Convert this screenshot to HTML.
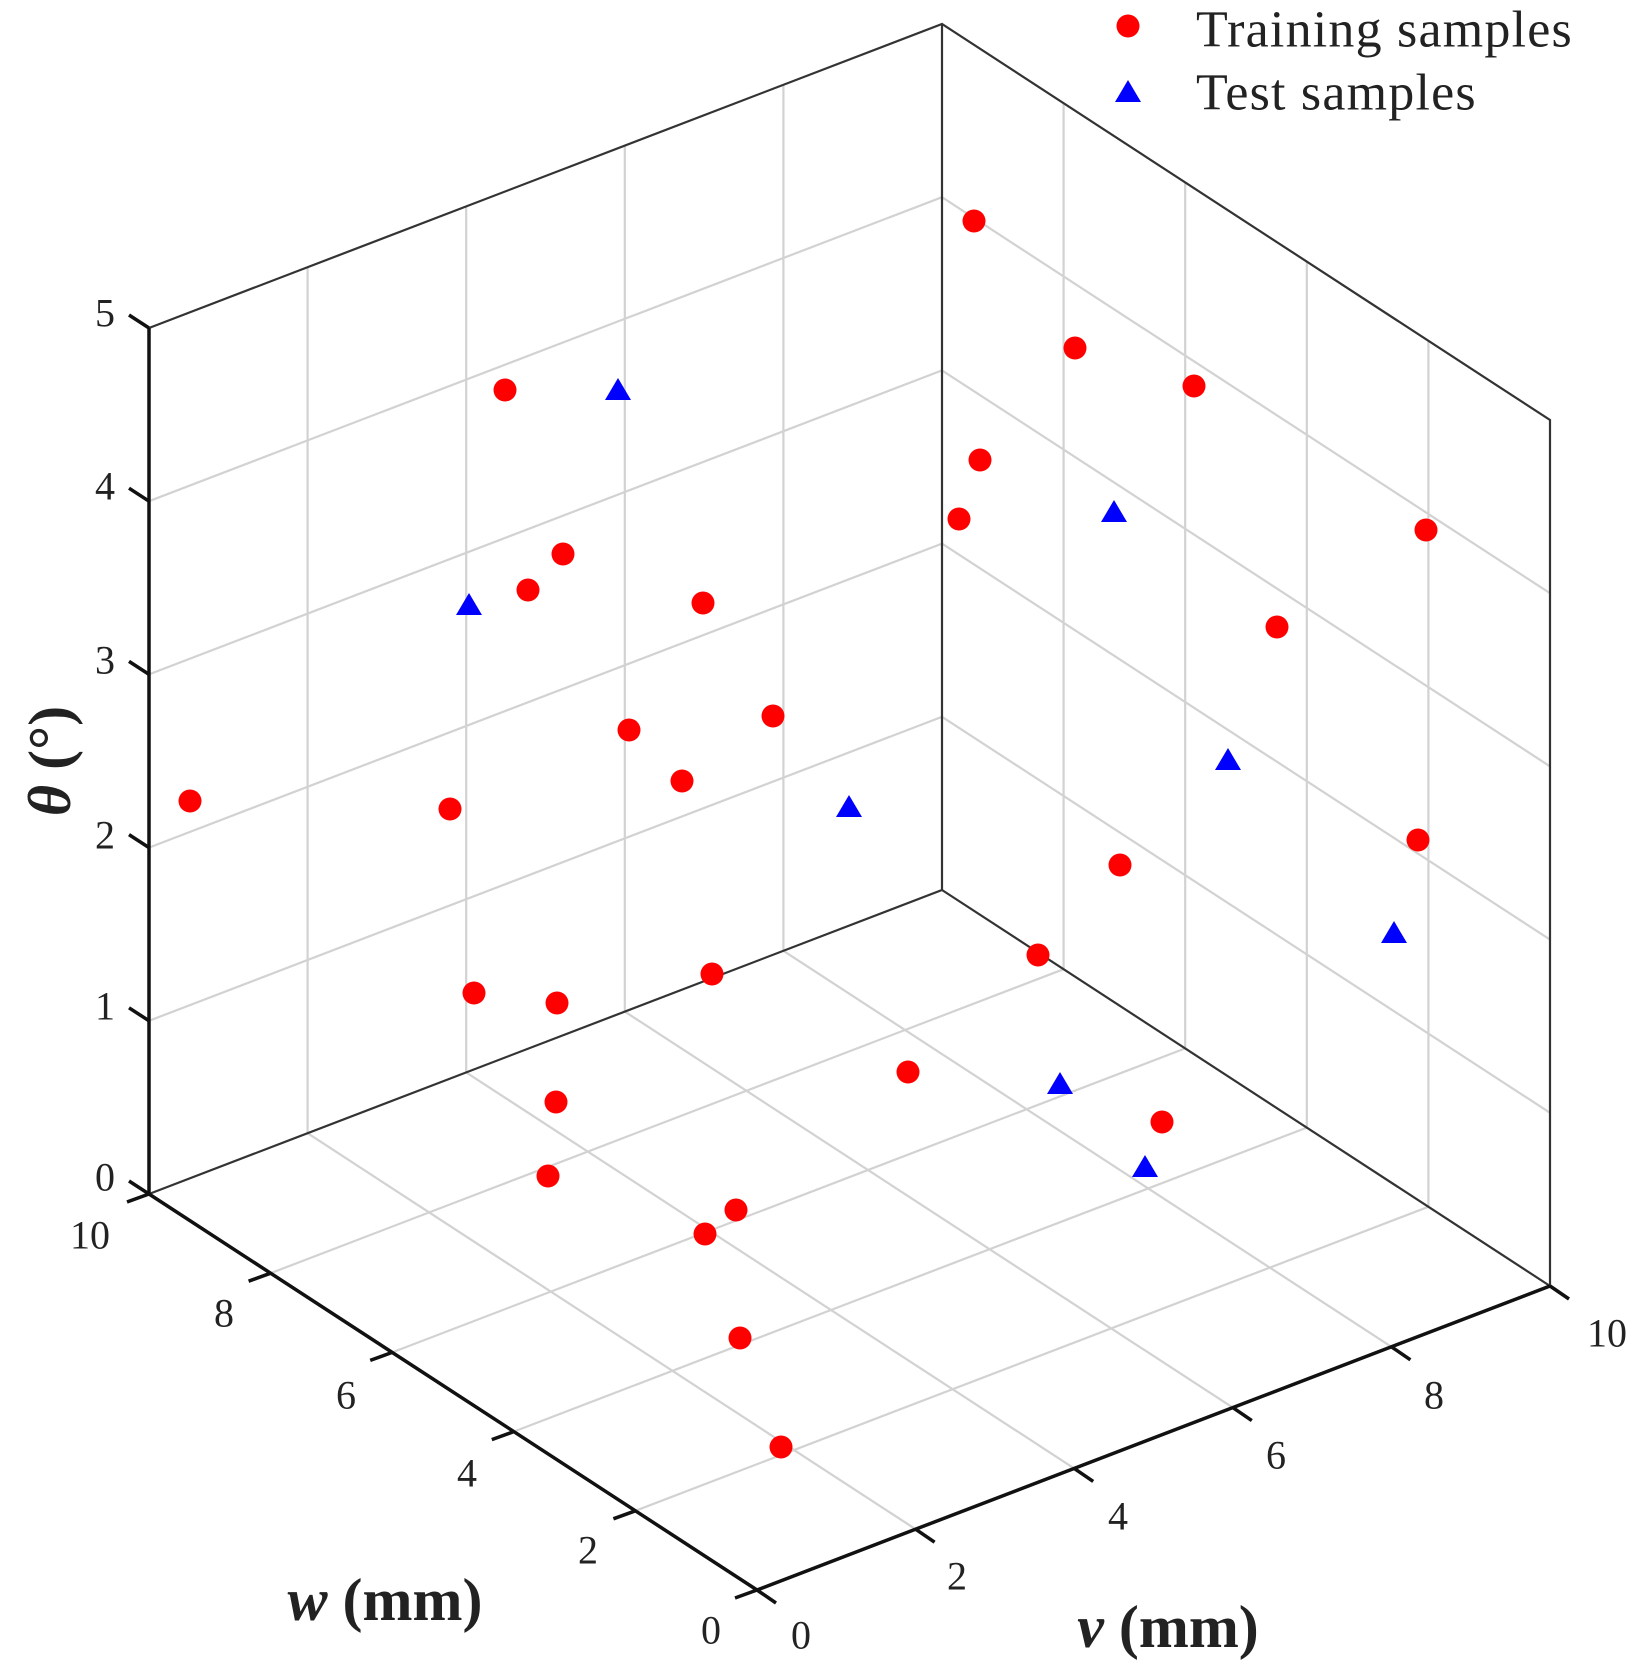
<!DOCTYPE html>
<html><head><meta charset="utf-8"><style>
html,body{margin:0;padding:0;background:#fff}
svg{display:block}
text{font-family:"Liberation Serif",serif;fill:#222}
</style></head><body>
<svg width="1646" height="1676" viewBox="0 0 1646 1676" xmlns="http://www.w3.org/2000/svg">
<g stroke="#d2d2d2" stroke-width="2.2" fill="none">
<line x1="915.6" y1="1529.2" x2="307.6" y2="1133.2"/>
<line x1="1074.2" y1="1468.4" x2="466.2" y2="1072.4"/>
<line x1="1232.8" y1="1407.6" x2="624.8" y2="1011.6"/>
<line x1="1391.4" y1="1346.8" x2="783.4" y2="950.8"/>
<line x1="635.4" y1="1510.8" x2="1428.4" y2="1206.8"/>
<line x1="513.8" y1="1431.6" x2="1306.8" y2="1127.6"/>
<line x1="392.2" y1="1352.4" x2="1185.2" y2="1048.4"/>
<line x1="270.6" y1="1273.2" x2="1063.6" y2="969.2"/>
<line x1="307.6" y1="1133.2" x2="307.6" y2="267.2"/>
<line x1="466.2" y1="1072.4" x2="466.2" y2="206.4"/>
<line x1="624.8" y1="1011.6" x2="624.8" y2="145.6"/>
<line x1="783.4" y1="950.8" x2="783.4" y2="84.8"/>
<line x1="149" y1="1020.8" x2="942" y2="716.8"/>
<line x1="149" y1="847.6" x2="942" y2="543.6"/>
<line x1="149" y1="674.4" x2="942" y2="370.4"/>
<line x1="149" y1="501.2" x2="942" y2="197.2"/>
<line x1="1428.4" y1="1206.8" x2="1428.4" y2="340.8"/>
<line x1="1306.8" y1="1127.6" x2="1306.8" y2="261.6"/>
<line x1="1185.2" y1="1048.4" x2="1185.2" y2="182.4"/>
<line x1="1063.6" y1="969.2" x2="1063.6" y2="103.2"/>
<line x1="1550" y1="1112.8" x2="942" y2="716.8"/>
<line x1="1550" y1="939.6" x2="942" y2="543.6"/>
<line x1="1550" y1="766.4" x2="942" y2="370.4"/>
<line x1="1550" y1="593.2" x2="942" y2="197.2"/>
</g>
<g stroke="#333" stroke-width="2.2" fill="none">
<polyline points="149,328 942,24 1550,420 1550,1286"/>
<line x1="942" y1="24" x2="942" y2="890"/>
<line x1="149" y1="1194" x2="942" y2="890"/>
<line x1="1550" y1="1286" x2="942" y2="890"/>
</g>
<g stroke="#111" stroke-width="3.5" fill="none">
<line x1="149" y1="328" x2="149" y2="1194"/>
<polyline points="149,1194 757,1590 1550,1286"/>
<line x1="149" y1="328" x2="129" y2="315"/>
<line x1="149" y1="501.2" x2="129" y2="488.2"/>
<line x1="149" y1="674.4" x2="129" y2="661.4"/>
<line x1="149" y1="847.6" x2="129" y2="834.6"/>
<line x1="149" y1="1020.8" x2="129" y2="1007.8"/>
<line x1="149" y1="1194" x2="129" y2="1181"/>
<line x1="149" y1="1194" x2="127" y2="1202"/>
<line x1="270.6" y1="1273.2" x2="248.6" y2="1281.2"/>
<line x1="392.2" y1="1352.4" x2="370.2" y2="1360.4"/>
<line x1="513.8" y1="1431.6" x2="491.8" y2="1439.6"/>
<line x1="635.4" y1="1510.8" x2="613.4" y2="1518.8"/>
<line x1="757" y1="1590" x2="735" y2="1598"/>
<line x1="757" y1="1590" x2="776" y2="1603"/>
<line x1="915.6" y1="1529.2" x2="934.6" y2="1542.2"/>
<line x1="1074.2" y1="1468.4" x2="1093.2" y2="1481.4"/>
<line x1="1232.8" y1="1407.6" x2="1251.8" y2="1420.6"/>
<line x1="1391.4" y1="1346.8" x2="1410.4" y2="1359.8"/>
<line x1="1550" y1="1286" x2="1569" y2="1299"/>
</g>
<g font-size="40" text-anchor="middle" dominant-baseline="central">
<text x="105" y="313">5</text><text x="105" y="486">4</text><text x="105" y="660">3</text>
<text x="105" y="835">2</text><text x="105" y="1006">1</text><text x="105" y="1177">0</text>
<text x="90" y="1235">10</text><text x="224" y="1313">8</text><text x="346" y="1395">6</text>
<text x="467" y="1473">4</text><text x="588" y="1550">2</text><text x="711" y="1630">0</text>
<text x="801" y="1635">0</text><text x="957" y="1576">2</text><text x="1118" y="1516">4</text>
<text x="1276" y="1455">6</text><text x="1434" y="1395">8</text><text x="1607" y="1333">10</text>
</g>
<g font-size="60" font-weight="bold" text-anchor="middle" dominant-baseline="central">
<text transform="translate(50,761) rotate(-90)"><tspan font-style="italic">θ</tspan> (°)</text>
<text x="385" y="1600"><tspan font-style="italic">w</tspan> (mm)</text>
<text x="1168" y="1627"><tspan font-style="italic">v</tspan> (mm)</text>
</g>
<g fill="#f00">
<circle cx="974" cy="221" r="11.5"/><circle cx="1075" cy="348" r="11.5"/><circle cx="1194" cy="386" r="11.5"/>
<circle cx="980" cy="460" r="11.5"/><circle cx="959" cy="519" r="11.5"/><circle cx="1426" cy="530" r="11.5"/>
<circle cx="1277" cy="627" r="11.5"/><circle cx="505" cy="390" r="11.5"/><circle cx="563" cy="554" r="11.5"/>
<circle cx="528" cy="590" r="11.5"/><circle cx="703" cy="603" r="11.5"/><circle cx="629" cy="730" r="11.5"/>
<circle cx="773" cy="716" r="11.5"/><circle cx="682" cy="781" r="11.5"/><circle cx="190" cy="801" r="11.5"/>
<circle cx="450" cy="809" r="11.5"/><circle cx="1120" cy="865" r="11.5"/><circle cx="1418" cy="840" r="11.5"/>
<circle cx="1038" cy="955" r="11.5"/><circle cx="474" cy="993" r="11.5"/><circle cx="557" cy="1003" r="11.5"/>
<circle cx="712" cy="974" r="11.5"/><circle cx="908" cy="1072" r="11.5"/><circle cx="556" cy="1102" r="11.5"/>
<circle cx="1162" cy="1122" r="11.5"/><circle cx="548" cy="1176" r="11.5"/><circle cx="736" cy="1210" r="11.5"/>
<circle cx="705" cy="1234" r="11.5"/><circle cx="740" cy="1338" r="11.5"/><circle cx="781" cy="1447" r="11.5"/>
<circle cx="1128" cy="26" r="11.5"/>
</g>
<g fill="#00f">
<polygon points="618,378 605,400 631,400"/>
<polygon points="469,593 456,615 482,615"/>
<polygon points="1114,500 1101,522 1127,522"/>
<polygon points="849,795 836,817 862,817"/>
<polygon points="1228,748 1215,770 1241,770"/>
<polygon points="1394,921 1381,943 1407,943"/>
<polygon points="1060,1072 1047,1094 1073,1094"/>
<polygon points="1145,1155 1132,1177 1158,1177"/>
<polygon points="1128,80 1115,102 1141,102"/>
</g>
<g font-size="52" letter-spacing="1.2" dominant-baseline="central">
<text x="1196" y="30">Training samples</text>
<text x="1196" y="93">Test samples</text>
</g>
</svg>
</body></html>
